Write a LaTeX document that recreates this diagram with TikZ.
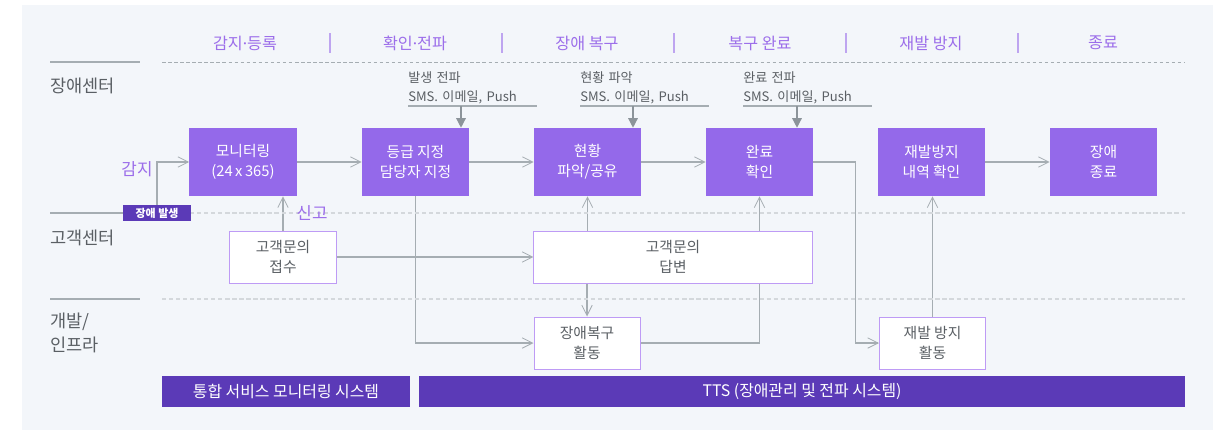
\documentclass[tikz,border=0pt]{standalone}
\usepackage{fontspec}
\setmainfont{Noto Sans CJK KR}
\newfontfamily\latinfont{Noto Sans}
\usetikzlibrary{arrows.meta,positioning,calc}
\definecolor{panelbg}{RGB}{243,246,250}
\definecolor{boxpurple}{RGB}{148,105,234}
\definecolor{barpurple}{RGB}{91,58,183}
\definecolor{headpurple}{RGB}{156,110,234}
\definecolor{seppurple}{RGB}{190,165,240}
\definecolor{edgepurple}{RGB}{190,155,245}
\definecolor{linegray}{RGB}{165,173,178}
\definecolor{notegray}{RGB}{140,148,154}
\definecolor{textgray}{RGB}{90,95,100}
\definecolor{dashgray}{RGB}{212,216,220}
\pgfdeclarelayer{panel}
\pgfdeclarelayer{lines}
\pgfsetlayers{panel,lines,main}
\newcommand{\middot}{{\latinfont ·}}

\begin{document}
\begin{tikzpicture}[x=0.025cm,y=-0.025cm,
    stepbox/.style={fill=boxpurple, text=white, align=center, inner sep=0pt,
      minimum width=2.675cm, minimum height=1.7cm, font=\fontsize{10.5}{14}\selectfont},
    workbox/.style={fill=white, draw=edgepurple, line width=0.7pt, text=textgray, align=center,
      inner sep=0pt, minimum height=1.3cm, font=\fontsize{10.5}{14}\selectfont},
    phase/.style={text=headpurple, font=\fontsize{11.5}{13}\selectfont},
    lane/.style={anchor=west, text=textgray, align=left, inner sep=0pt, font=\fontsize{12.5}{16.5}\selectfont},
    note/.style={anchor=south west, text=textgray, align=left, inner sep=0pt, text width=3.2cm,
      font=\fontsize{9.3}{13.5}\selectfont},
    sysbar/.style={fill=barpurple, text=white, inner sep=0pt, minimum height=0.775cm,
      font=\fontsize{11.3}{13}\selectfont},
    flow/.style={draw=linegray, line width=0.8pt,
      -{Straight Barb[length=2.6mm,width=2.6mm,line width=0.6pt]}},
    notearrow/.style={draw=notegray, line width=0.9pt, -{Triangle[length=2.4mm,width=2.4mm]}}]
    \useasboundingbox (0,0) rectangle (1216,430);
    % Panel
    \begin{pgfonlayer}{panel}
      \fill[panelbg] (22,5) rectangle (1213,430);
    \end{pgfonlayer}
    % Phases
    \node[phase] (ph1) at (245,43) {감지\middot 등록};
    \node[phase] (ph2) at (415,43) {확인\middot 전파};
    \node[phase] (ph3) at (587,43) {장애 복구};
    \node[phase] (ph4) at (760,43) {복구 완료};
    \node[phase] (ph5) at (931,43) {재발 방지};
    \node[phase] (ph6) at (1103,43) {종료};
    \foreach \x in {330,502,674,846,1018}
      \draw[seppurple, line width=0.8pt] (\x,33) -- (\x,53);
    % Lanes
    \draw[linegray, line width=0.8pt] (50,62) -- (140,62);
    \draw[linegray, line width=0.6pt, dash pattern=on 2.5pt off 1.8pt] (162,62) -- (1185,62);
    \foreach \y in {213,299} {
      \draw[linegray, line width=0.8pt] (50,\y) -- (140,\y);
      \draw[dashgray, line width=0.8pt, dash pattern=on 3pt off 2pt] (162,\y) -- (1185,\y);
    }
    \node[lane] (lane1) at (50,86) {장애센터};
    \node[lane] (lane2) at (50,238) {고객센터};
    \node[lane] (lane3) at (50,333) {개발/\\인프라};
    % Steps
    \node[stepbox] (mon) at (243,162) {모니터링\\(24\,x\,365)};
    \node[stepbox] (grade) at (415.5,162) {등급 지정\\담당자 지정};
    \node[stepbox] (stat) at (587.5,162) {현황\\파악/공유};
    \node[stepbox] (done) at (759.5,162) {완료\\확인};
    \node[stepbox] (hist) at (931.5,162) {재발방지\\내역 확인};
    \node[stepbox] (close) at (1103.5,162) {장애\\종료};
    \node[workbox, minimum width=2.65cm] (recv) at (283,257) {고객문의\\접수};
    \node[workbox, minimum width=6.95cm] (answer) at (673,257) {고객문의\\답변};
    \node[workbox, minimum width=2.65cm] (recov) at (587,343) {장애복구\\활동};
    \node[workbox, minimum width=2.65cm] (prevact) at (932.5,343) {재발 방지\\활동};
    % Trigger
    \node[fill=barpurple, text=white, inner sep=0pt, minimum width=1.7cm, minimum height=0.4cm,
      font=\fontsize{7.8}{9}\selectfont\bfseries] (tag) at (157,213) {장애 발생};
    \node[text=headpurple, font=\fontsize{12}{13}\selectfont] (detect) at (137,169) {감지};
    \node[text=headpurple, font=\fontsize{12}{13}\selectfont] (report) at (312,213) {신고};
    % Notes
    \node[note] (n1) at (408,104) {발생 전파\\SMS. 이메일, Push};
    \node[note] (n2) at (580,104) {현황 파악\\SMS. 이메일, Push};
    \node[note] (n3) at (743,104) {완료 전파\\SMS. 이메일, Push};
    \foreach \n/\x/\b in {n1/461/grade,n2/633/stat,n3/797/done} {
      \draw[linegray, line width=0.8pt] ($(\n.south west)+(0,2)$) -- ($(\n.south east)+(0,2)$);
      \coordinate (\n tip) at (\x,106);
      \draw[notearrow] (\n tip) -- (\n tip |- \b.north);
    }
    % Flow
    \begin{pgfonlayer}{lines}
      \draw[flow] (tag.north) |- (mon.west);
      \draw[flow] (mon) -- (grade);
      \draw[flow] (grade) -- (stat);
      \draw[flow] (stat) -- (done);
      \draw[flow] (hist) -- (close);
      \draw[flow] (recv.north) -- (recv.north |- mon.south);
      \draw[flow] (recv) -- (answer);
      \draw[flow] (answer.north -| stat.south) -- (stat.south);
      \draw[flow] (answer.south -| recov.north) -- (recov.north);
      \draw[flow] (grade.south) |- (recov.west);
      \draw[flow] (recov.east) -| (done.south);
      \draw[flow] (done.east) -- ++(42,0) |- (prevact.west);
      \draw[flow] (prevact.north) -- (prevact.north |- hist.south);
    \end{pgfonlayer}
    % Systems
    \node[sysbar, minimum width=6.2cm] (sys1) at (286,391.5) {통합 서비스 모니터링 시스템};
    \node[sysbar, minimum width=19.15cm] (sys2) at (802,391.5) {TTS (장애관리 및 전파 시스템)};
  \end{tikzpicture}
\end{document}
